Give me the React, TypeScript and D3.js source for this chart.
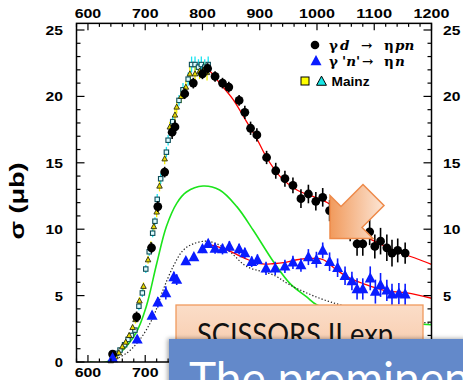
import React from "react";
import * as d3 from "d3";

// ---------- data ----------
const xTickLabels = [600, 700, 800, 900, 1000, 1100, 1200];
const yTickLabels = [0, 5, 10, 15, 20, 25];

// gamma d -> eta p n (black circles)
const blackX = [643, 685, 711, 722, 734, 747, 752, 769, 784, 800, 809, 822, 835, 846, 864, 874, 884, 895, 912, 928, 944, 958, 972, 985, 998, 1010, 1022, 1034, 1046, 1058, 1070, 1080, 1092, 1101, 1111, 1122, 1131, 1141, 1154];
const blackY = [0.6, 3.4, 8.6, 11.7, 14.3, 17.3, 17.7, 20.2, 21.0, 21.7, 22.1, 21.5, 21.0, 20.7, 19.7, 18.8, 17.6, 17.1, 15.4, 14.4, 13.8, 13.3, 12.3, 12.65, 12.1, 12.4, 11.4, 10.9, 10.4, 9.9, 8.9, 8.9, 9.8, 8.7, 9.1, 8.6, 8.2, 8.4, 8.2];
const blackErr = [0.3, 0.4, 0.4, 0.4, 0.4, 0.5, 0.5, 0.4, 0.4, 0.4, 0.4, 0.4, 0.4, 0.4, 0.4, 0.5, 0.5, 0.5, 0.5, 0.6, 0.6, 0.6, 0.7, 0.7, 0.7, 0.7, 0.8, 0.8, 0.8, 0.8, 0.9, 0.9, 1.0, 0.9, 1.0, 1.0, 1.0, 0.9, 0.8];

// gamma 'n' -> eta n (blue triangles)
const blueX = [643, 686, 712, 722, 736, 750, 755, 771, 785, 800, 810, 822, 835, 847, 864, 874, 886, 896, 911, 927, 944, 958, 972, 985, 999, 1010, 1022, 1036, 1049, 1061, 1070, 1080, 1093, 1102, 1111, 1122, 1131, 1143, 1154];
const blueY = [0.3, 1.7, 3.5, 4.5, 5.2, 6.4, 6.2, 7.6, 7.9, 8.5, 8.9, 8.55, 8.5, 8.7, 8.5, 8.2, 7.55, 7.7, 7.05, 7.05, 7.2, 7.5, 7.3, 7.9, 7.7, 8.4, 7.55, 7.1, 6.5, 6.1, 5.5, 5.5, 6.3, 5.3, 5.8, 5.4, 5.1, 5.15, 5.1];
const blueErr = [0.1, 0.2, 0.3, 0.4, 0.5, 0.4, 0.4, 0.3, 0.3, 0.3, 0.3, 0.4, 0.4, 0.4, 0.4, 0.4, 0.4, 0.4, 0.5, 0.5, 0.5, 0.5, 0.5, 0.6, 0.6, 0.6, 0.7, 0.7, 0.7, 0.7, 0.8, 0.8, 0.9, 0.9, 0.9, 0.8, 0.8, 0.8, 0.8];

// Mainz squares
const mzSqX = [644, 650, 656, 664, 670, 676, 682, 689, 695, 701, 707, 713, 717, 721, 727, 737, 740, 748, 759, 766, 775, 781, 787, 793, 798, 804, 810];
const mzSqY = [0.4, 0.65, 0.9, 1.3, 1.7, 2.0, 2.4, 4.2, 5.2, 7.0, 8.3, 9.7, 10.6, 12.25, 13.8, 15.8, 16.7, 18.1, 19.7, 20.5, 21.3, 22.4, 22.4, 22.2, 22.4, 22.2, 22.4];
const mzSqErr = [0.1, 0.1, 0.1, 0.2, 0.2, 0.2, 0.2, 0.3, 0.3, 0.3, 0.3, 0.3, 0.3, 0.4, 0.4, 0.4, 0.4, 0.4, 0.4, 0.5, 0.5, 0.6, 0.6, 0.6, 0.6, 0.6, 0.6];
// Mainz triangles
const mzTrX = [640, 648, 654, 660, 666, 672, 678, 683, 690, 697, 705, 710, 715, 720, 725, 734, 743, 752, 755, 763, 771, 778, 787, 795, 802, 808];
const mzTrY = [0.1, 0.4, 0.7, 1.15, 1.5, 2.0, 2.6, 3.2, 4.6, 5.7, 7.7, 8.8, 10.2, 11.3, 13.25, 15.3, 17.7, 18.6, 19.2, 20.0, 20.7, 21.7, 21.7, 21.9, 22.0, 21.8];
const mzTrErr = [0.1, 0.1, 0.1, 0.2, 0.2, 0.2, 0.2, 0.3, 0.3, 0.3, 0.3, 0.3, 0.3, 0.4, 0.4, 0.4, 0.4, 0.5, 0.5, 0.5, 0.5, 0.6, 0.6, 0.6, 0.6, 0.6];

// fits
const redUpX = [805, 813, 830, 853, 877, 895, 912, 935, 965, 994, 1022, 1050, 1087, 1115, 1140, 1170, 1200];
const redUpY = [22.1, 21.9, 21.0, 19.8, 18.1, 16.8, 15.4, 14.0, 12.95, 12.45, 11.9, 10.6, 9.4, 8.8, 8.3, 7.85, 7.35];
const redLoX = [816, 840, 862, 880, 900, 923, 945, 965, 993, 1011, 1035, 1058, 1081, 1117, 1157, 1200];
const redLoY = [8.8, 8.5, 8.05, 7.7, 7.4, 7.4, 7.5, 7.7, 7.8, 7.7, 6.9, 6.3, 5.9, 5.4, 5.2, 4.8];
const greenX = [603, 632, 655, 684, 702, 720, 737, 755, 772, 801, 830, 860, 889, 924, 953, 982, 1000, 1050, 1100, 1150, 1200];
const greenY = [0, 0, 0.65, 2.2, 4.2, 7.4, 10.2, 11.95, 12.8, 13.25, 12.95, 11.7, 9.9, 7.55, 5.9, 4.9, 4.3, 3.6, 3.2, 2.95, 2.8];
const dotX = [638, 667, 690, 714, 731, 749, 766, 784, 807, 825, 848, 877, 924, 953, 982, 1011, 1041, 1100, 1150, 1200];
const dotY = [0, 0.65, 1.65, 3.4, 5.4, 7.2, 8.4, 8.9, 9.1, 8.9, 8.3, 7.2, 6.55, 5.8, 5.2, 4.7, 4.3, 3.6, 3.2, 2.9];

const zip = (a: number[], b: number[]) => a.map((v, i) => [v, b[i]] as [number, number]);

const LBL = { fontFamily: "'Liberation Sans', Arial, sans-serif", fontWeight: 700 as const, fontSize: 13.5 };

export default function App() {
  const x = d3.scaleLinear().domain([580, 1200]).range([76.5, 431.5]);
  const y = d3.scaleLinear().domain([0, 25]).range([362, 30]);
  const L = x(580), R = x(1200), B = y(0), T = y(25.5);
  const line = d3
    .line<[number, number]>()
    .x((d) => x(d[0]))
    .y((d) => y(d[1]))
    .curve(d3.curveCatmullRom.alpha(0.5));
  const minorX = d3.range(580, 1201, 20);
  const minorY = d3.range(0, 26, 1);
  const tri = (cx: number, cy: number, s: number) =>
    `M${cx},${cy - s * 0.6}L${cx + s * 0.55},${cy + s * 0.42}L${cx - s * 0.55},${cy + s * 0.42}Z`;
  const lblLen = (v: number) => String(v).length * 9.2 - 1;
  const boxLeft = 169;

  // annotation arrow (pixel space), tip at bottom-left
  const tx = 330, ty = 238.5;
  const rel = [[0, 0], [0, -43], [11, -32], [33, -54]];
  const refl = (p: number[]) => [-p[1], -p[0]];
  const arrowPts = [...rel, ...rel.slice(1).reverse().map(refl)].map((p) => [tx + p[0], ty + p[1]]);
  const arrowD = "M" + arrowPts.map((p) => p.join(",")).join("L") + "Z";

  return (
    <svg width={463} height={380} style={{ position: "absolute", left: 0, top: 0, background: "#fff" }}>
      <defs>
        <linearGradient id="arrowG" x1="0" y1="0" x2="1" y2="0">
          <stop offset="0" stopColor="#F19A5C" />
          <stop offset="1" stopColor="#FCE6D6" />
        </linearGradient>
        <linearGradient id="boxG" x1="0" y1="0" x2="0" y2="1">
          <stop offset="0" stopColor="#FBDDC8" />
          <stop offset="1" stopColor="#F7C7A6" />
        </linearGradient>
        <filter id="sh" x="-5%" y="-30%" width="115%" height="160%">
          <feDropShadow dx="-1.5" dy="-0.5" stdDeviation="2" floodColor="#000" floodOpacity="0.35" />
        </filter>
        <clipPath id="plot">
          <rect x={L} y={T} width={R - L} height={B - T} />
        </clipPath>
      </defs>

      {/* curves */}
      <g clipPath="url(#plot)" fill="none">
        <path d={line(zip(greenX, greenY)) || ""} stroke="#1be41b" strokeWidth={1.6} />
        <path d={line(zip(dotX, dotY)) || ""} stroke="#222" strokeWidth={1.2} strokeDasharray="1.3,2" />
      </g>

      {/* Mainz data */}
      <g>
        {mzSqX.map((v, i) => (
          <line key={"mse" + i} x1={x(v)} x2={x(v)} y1={y(mzSqY[i] - mzSqErr[i])} y2={y(mzSqY[i] + mzSqErr[i])} stroke="#19e3f0" strokeWidth={1.3} />
        ))}
        {mzTrX.map((v, i) => (
          <line key={"mte" + i} x1={x(v)} x2={x(v)} y1={y(mzTrY[i] - mzTrErr[i])} y2={y(mzTrY[i] + mzTrErr[i])} stroke="#f5f000" strokeWidth={1.3} />
        ))}
        {mzSqX.map((v, i) => (
          <rect key={"ms" + i} x={x(v) - 2.2} y={y(mzSqY[i]) - 2.2} width={4.4} height={4.4} fill="#dffcff" stroke="#0c4d58" strokeWidth={1.1} />
        ))}
        {mzTrX.map((v, i) => (
          <path key={"mt" + i} d={tri(x(v), y(mzTrY[i]), 5)} fill="#e8dc00" stroke="#2a2a10" strokeWidth={0.9} />
        ))}
      </g>

      {/* fits */}
      <g clipPath="url(#plot)" fill="none">
        <path d={line(zip(redUpX, redUpY)) || ""} stroke="#f00" strokeWidth={1.3} />
        <path d={line(zip(redLoX, redLoY)) || ""} stroke="#f00" strokeWidth={1.3} />
      </g>

      {/* black data */}
      <g>
        {blackX.map((v, i) => (
          <line key={"be" + i} x1={x(v)} x2={x(v)} y1={y(blackY[i] - blackErr[i])} y2={y(blackY[i] + blackErr[i])} stroke="#000" strokeWidth={1.6} />
        ))}
        {blackX.map((v, i) => (
          <circle key={"b" + i} cx={x(v)} cy={y(blackY[i])} r={4.4} fill="#000" />
        ))}
      </g>

      {/* blue data */}
      <g>
        {blueX.map((v, i) => (
          <line key={"ue" + i} x1={x(v)} x2={x(v)} y1={y(blueY[i] - blueErr[i])} y2={y(blueY[i] + blueErr[i])} stroke="#0a1cff" strokeWidth={1.6} />
        ))}
        {blueX.map((v, i) => (
          <path key={"u" + i} d={tri(x(v), y(blueY[i]), 10)} fill="#0a1cff" />
        ))}
      </g>

      {/* frame and ticks */}
      <rect x={L} y={T} width={R - L} height={B - T} fill="none" stroke="#000" strokeWidth={1.5} />
      <g stroke="#000" strokeWidth={1.2}>
        {minorX.map((v) => {
          const len = v % 100 === 0 ? 7 : 3.5;
          return (
            <g key={"tx" + v}>
              <line x1={x(v)} x2={x(v)} y1={T} y2={T + len} />
              <line x1={x(v)} x2={x(v)} y1={B} y2={B - len} />
            </g>
          );
        })}
        {minorY.map((v) => {
          const len = v % 5 === 0 ? 8 : 4;
          return (
            <g key={"ty" + v}>
              <line x1={L} x2={L + len} y1={y(v)} y2={y(v)} />
              <line x1={R} x2={R - len} y1={y(v)} y2={y(v)} />
            </g>
          );
        })}
      </g>

      {/* tick labels */}
      <g style={LBL} fill="#000">
        {xTickLabels.map((v) => (
          <text key={"tl" + v} x={x(v)} y={18} textAnchor="middle" textLength={lblLen(v)} lengthAdjust="spacingAndGlyphs">
            {v}
          </text>
        ))}
        {xTickLabels.filter((v) => x(v) + lblLen(v) / 2 < boxLeft).map((v) => (
          <text key={"bl" + v} x={x(v)} y={377} textAnchor="middle" textLength={lblLen(v)} lengthAdjust="spacingAndGlyphs">
            {v}
          </text>
        ))}
        {yTickLabels.map((v) => (
          <text key={"ll" + v} x={63} y={y(v) + 5} textAnchor="end" textLength={lblLen(v)} lengthAdjust="spacingAndGlyphs">
            {v}
          </text>
        ))}
        {yTickLabels.filter((v) => v > 0).map((v) => (
          <text key={"rl" + v} x={443} y={y(v) + 5} textAnchor="start" textLength={lblLen(v)} lengthAdjust="spacingAndGlyphs">
            {v}
          </text>
        ))}
      </g>

      {/* y axis title */}
      <text
        x={24}
        y={201}
        transform="rotate(-90,24,201)"
        textAnchor="middle"
        style={{ fontFamily: "'Liberation Sans', Arial, sans-serif", fontWeight: 700, fontSize: 21 }}
        textLength={77}
        lengthAdjust="spacingAndGlyphs"
      >
        σ (μb)
      </text>

      {/* legend */}
      <g>
        <circle cx={315} cy={45} r={4.3} fill="#000" />
        <path d={tri(316, 61, 10)} fill="#0a1cff" />
        <rect x={301} y={77} width={8} height={8} fill="#ffff00" stroke="#000" strokeWidth={1} />
        <path d={tri(321.5, 81.5, 9)} fill="#19e6e6" stroke="#000" strokeWidth={1} />
        <g style={{ fontFamily: "'DejaVu Serif', 'Liberation Serif', serif", fontWeight: 700, fontSize: 13.5 }} fill="#000">
          <text y={50}>
            <tspan x={329}>γ</tspan>
            <tspan x={340} fontStyle="italic">d</tspan>
            <tspan x={361}>→</tspan>
            <tspan x={384}>η</tspan>
            <tspan x={395} fontStyle="italic">pn</tspan>
          </text>
          <text y={66}>
            <tspan x={329}>γ</tspan>
            <tspan x={342} fontStyle="italic">'n'</tspan>
            <tspan x={362}>→</tspan>
            <tspan x={384}>η</tspan>
            <tspan x={395} fontStyle="italic">n</tspan>
          </text>
        </g>
        <text x={331.5} y={86} style={{ fontFamily: "'Liberation Sans', Arial, sans-serif", fontWeight: 700, fontSize: 12.5 }} textLength={38} lengthAdjust="spacingAndGlyphs">
          Mainz
        </text>
      </g>

      {/* overlays */}
      <path d={arrowD} fill="url(#arrowG)" stroke="#EE8A4A" strokeWidth={1.5} strokeLinejoin="miter" />
      <rect x={176} y={305} width={247} height={60} fill="url(#boxG)" stroke="#F09A5E" strokeWidth={1.3} />
      <text x={197} y={344.5} style={{ fontFamily: "Lato, 'Open Sans', sans-serif", fontSize: 30 }} fill="#111" textLength={196} lengthAdjust="spacingAndGlyphs">
        SCISSORS II exp
      </text>
      <rect x={boxLeft} y={339} width={300} height={50} fill="#6389CA" filter="url(#sh)" />
      <text x={189} y={395} style={{ fontFamily: "Lato, 'Open Sans', sans-serif", fontSize: 46 }} fill="#fff">
        The prominent
      </text>
    </svg>
  );
}
